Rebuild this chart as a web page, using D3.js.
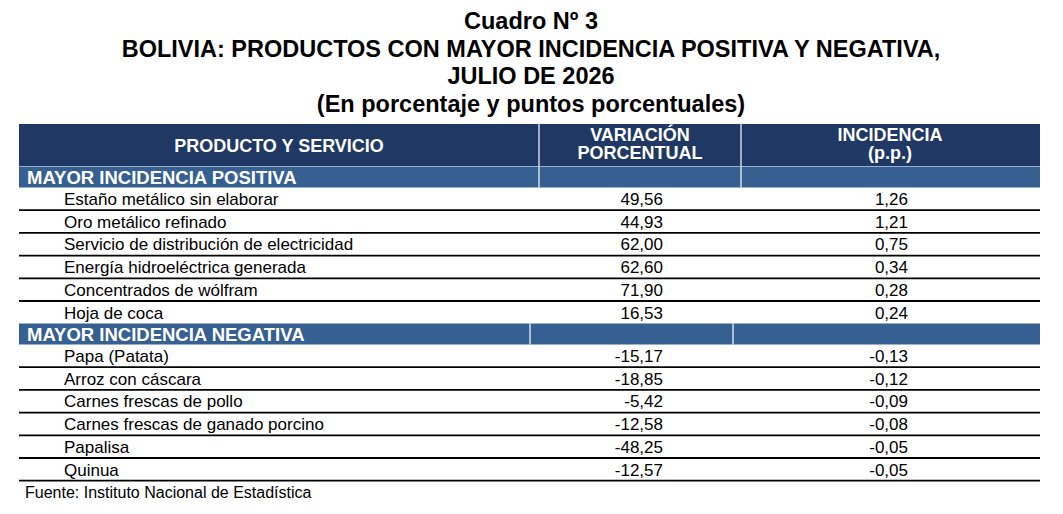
<!DOCTYPE html>
<html><head><meta charset="utf-8">
<script src="https://cdn.jsdelivr.net/npm/d3@7"></script>
<style>body{margin:0;background:#fff}text{font-family:"Liberation Sans",Arial,sans-serif}</style>
</head><body><svg id="c" width="1063" height="514"></svg>
<script>
var titleLines = ["Cuadro Nº 3", "BOLIVIA: PRODUCTOS CON MAYOR INCIDENCIA POSITIVA Y NEGATIVA,", "JULIO DE 2026", "(En porcentaje y puntos porcentuales)"];
var posProducts = ["Estaño metálico sin elaborar", "Oro metálico refinado", "Servicio de distribución de electricidad", "Energía hidroeléctrica generada", "Concentrados de wólfram", "Hoja de coca"];
var posVariation = [49.56, 44.93, 62.00, 62.60, 71.90, 16.53];
var posIncidence = [1.26, 1.21, 0.75, 0.34, 0.28, 0.24];
var negProducts = ["Papa (Patata)", "Arroz con cáscara", "Carnes frescas de pollo", "Carnes frescas de ganado porcino", "Papalisa", "Quinua"];
var negVariation = [-15.17, -18.85, -5.42, -12.58, -48.25, -12.57];
var negIncidence = [-0.13, -0.12, -0.09, -0.08, -0.05, -0.05];

var svg = d3.select("#c");
var left = 19, right = 1040;
var fmt = v => v.toFixed(2).replace(".", ",");
var navy = "#1f3864", band = "#376092";

// title
var ty = d3.scaleLinear().domain([0, 3]).range([29, 112]);
svg.selectAll("text.t").data(titleLines).enter().append("text")
  .attr("x", 531).attr("y", (d, i) => ty(i)).attr("text-anchor", "middle")
  .attr("font-size", 23.5).attr("font-weight", "bold").text(d => d);

// header
svg.append("rect").attr("x", left).attr("y", 124).attr("width", right - left).attr("height", 42).attr("fill", navy);
[539, 741].forEach(x => svg.append("line").attr("x1", x).attr("x2", x).attr("y1", 124).attr("y2", 166).attr("stroke", "#fff").attr("stroke-width", 1.2));
var hdr = [[279, ["PRODUCTO Y SERVICIO"]], [640, ["VARIACIÓN", "PORCENTUAL"]], [890, ["INCIDENCIA", "(p.p.)"]]];
hdr.forEach(h => {
  var n = h[1].length;
  h[1].forEach((s, i) => svg.append("text").attr("x", h[0]).attr("y", n == 1 ? 152 : 141 + i * 18)
    .attr("text-anchor", "middle").attr("font-size", 18).attr("font-weight", "bold").attr("fill", "#fff").text(s));
});

function section(label, y0, cols, products, vari, inc) {
  var rowH = 22.7;
  svg.append("rect").attr("x", left).attr("y", y0).attr("width", right - left).attr("height", 21).attr("fill", band);
  cols.forEach(x => svg.append("line").attr("x1", x).attr("x2", x).attr("y1", y0).attr("y2", y0 + 21).attr("stroke", "#fff").attr("stroke-width", 1.2));
  svg.append("text").attr("x", 27).attr("y", y0 + 17).attr("font-size", 18.5).attr("font-weight", "bold").attr("fill", "#fff").text(label);
  var y = d3.scaleBand().domain(d3.range(products.length)).range([y0 + 21, y0 + 21 + rowH * products.length]);
  var g = svg.append("g").selectAll("g").data(products).enter().append("g").attr("transform", (d, i) => `translate(0,${y(i)})`);
  g.append("text").attr("x", 64).attr("y", 17.5).attr("font-size", 17).text(d => d);
  g.append("text").attr("x", 663).attr("y", 17.5).attr("text-anchor", "end").attr("font-size", 17).text((d, i) => fmt(vari[i]));
  g.append("text").attr("x", 908).attr("y", 17.5).attr("text-anchor", "end").attr("font-size", 17).text((d, i) => fmt(inc[i]));
  g.filter((d, i) => i < products.length - 1 || label.indexOf("NEGATIVA") > -1)
    .append("line").attr("x1", left).attr("x2", right).attr("y1", y.bandwidth()).attr("y2", y.bandwidth()).attr("stroke", "#000").attr("stroke-width", 1.8);
}
section("MAYOR INCIDENCIA POSITIVA", 166.5, [539, 741], posProducts, posVariation, posIncidence);
section("MAYOR INCIDENCIA NEGATIVA", 323.5, [530, 733], negProducts, negVariation, negIncidence);

svg.append("text").attr("x", 25).attr("y", 498).attr("font-size", 16).text("Fuente: Instituto Nacional de Estadística");
</script></body></html>
